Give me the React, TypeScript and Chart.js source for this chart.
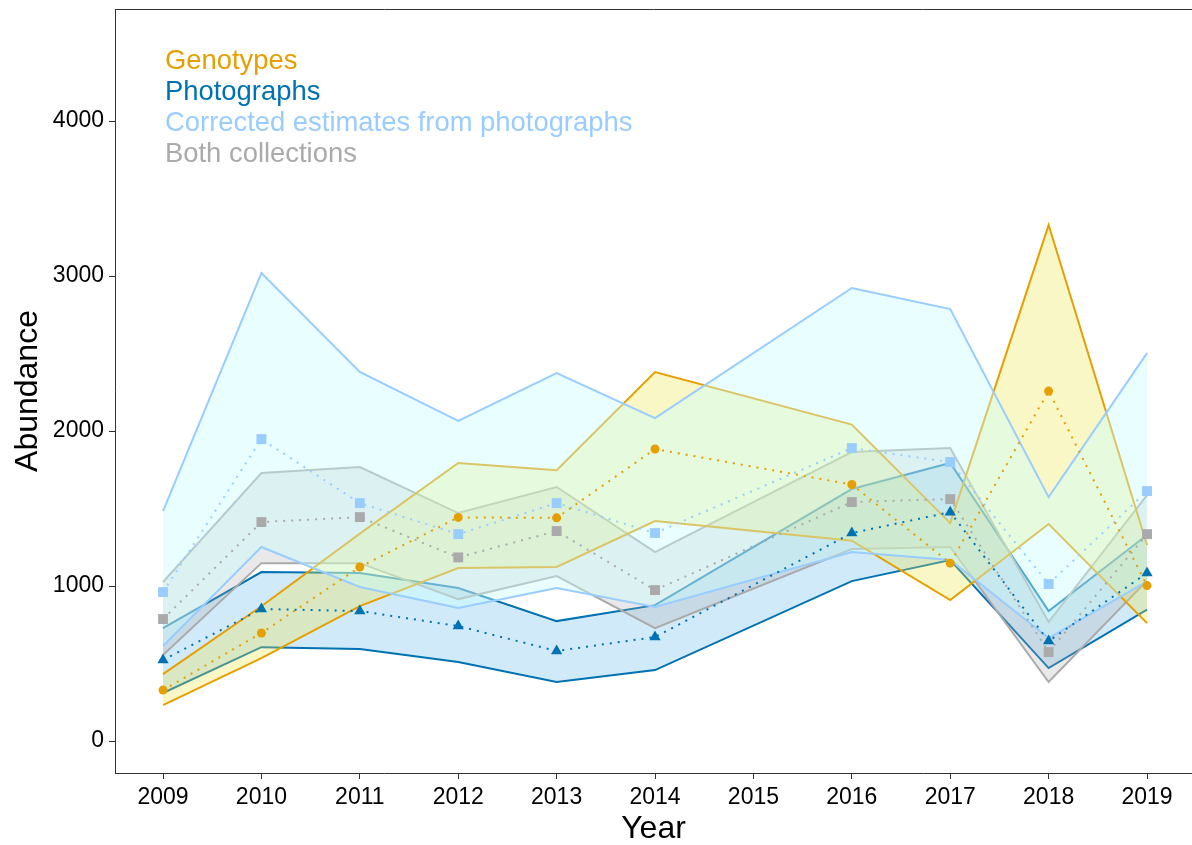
import React, { useEffect, useRef } from "react";
import { Chart, registerables } from "chart.js";

Chart.register(...registerables);

const years = [2009, 2010, 2011, 2012, 2013, 2014, 2016, 2017, 2018, 2019];
const xTicks = [2009, 2010, 2011, 2012, 2013, 2014, 2015, 2016, 2017, 2018, 2019];
const yTicks = [0, 1000, 2000, 3000, 4000];

const genoMean = [329, 697, 1123, 1443, 1440, 1884, 1655, 1148, 2258, 1003];
const genoUpper = [432, 870, 1338, 1794, 1748, 2381, 2042, 1406, 3329, 1265];
const genoLower = [232, 535, 871, 1116, 1123, 1419, 1293, 910, 1400, 761];

const photoMean = [523, 852, 839, 742, 581, 671, 1342, 1477, 645, 1084];
const photoUpper = [729, 1090, 1084, 987, 774, 877, 1626, 1794, 839, 1329];
const photoLower = [310, 606, 594, 510, 381, 458, 1032, 1168, 471, 848];

const corrMean = [961, 1948, 1535, 1335, 1535, 1342, 1890, 1800, 1013, 1613];
const corrUpper = [1484, 3019, 2381, 2065, 2374, 2084, 2923, 2787, 1574, 2503];
const corrLower = [613, 1252, 994, 858, 987, 865, 1219, 1168, 665, 1030];

const bothMean = [787, 1413, 1445, 1185, 1355, 974, 1542, 1561, 574, 1335];
const bothUpper = [1026, 1729, 1768, 1471, 1639, 1219, 1865, 1890, 768, 1587];
const bothLower = [555, 1148, 1148, 916, 1065, 729, 1239, 1252, 381, 1035];

const legendLabels = [
  "Genotypes",
  "Photographs",
  "Corrected estimates from photographs",
  "Both collections",
];

const C_GENO = "#E69F00";
const C_PHOTO = "#0072B2";
const C_CORR = "#99CCFF";
const C_BOTH = "#AAAAAA";
const legendColors = [C_GENO, C_PHOTO, C_CORR, C_BOTH];

const FONT = "'Liberation Sans', Arial, sans-serif";

const pts = (arr: number[]) => years.map((x, i) => ({ x, y: arr[i] }));

function ribbon(upper: number[], lower: number[], line: string, fill: string, order: number) {
  return [
    {
      data: pts(upper),
      borderColor: line,
      backgroundColor: fill,
      borderWidth: 2,
      pointRadius: 0,
      fill: "+1",
      order: order,
      tension: 0,
    },
    {
      data: pts(lower),
      borderColor: line,
      backgroundColor: fill,
      borderWidth: 2,
      pointRadius: 0,
      fill: false,
      order: order - 1,
      tension: 0,
    },
  ];
}

function meanLine(arr: number[], color: string, style: string, radius: number, order: number) {
  return {
    data: pts(arr),
    borderColor: color,
    backgroundColor: color,
    borderWidth: 2,
    borderDash: [2, 6],
    pointStyle: style,
    pointRadius: radius,
    pointBackgroundColor: color,
    pointBorderColor: color,
    pointBorderWidth: 0,
    fill: false,
    order: order,
    tension: 0,
  };
}

const overlayPlugin = {
  id: "overlay",
  afterDraw(chart: any) {
    const { ctx, chartArea } = chart;
    ctx.save();
    ctx.strokeStyle = "#333333";
    ctx.lineWidth = 1;
    ctx.beginPath();
    ctx.moveTo(chartArea.left, chartArea.top + 0.5);
    ctx.lineTo(chartArea.right, chartArea.top + 0.5);
    ctx.stroke();
    ctx.font = `27.4px ${FONT}`;
    ctx.textBaseline = "middle";
    ctx.textAlign = "left";
    legendLabels.forEach((t, i) => {
      ctx.fillStyle = legendColors[i];
      ctx.fillText(t, 165, 61 + i * 31);
    });
    ctx.restore();
  },
};

export default function App() {
  const ref = useRef<HTMLCanvasElement | null>(null);
  useEffect(() => {
    if (!ref.current) return;
    const datasets: any[] = [
      ...ribbon(photoUpper, photoLower, C_PHOTO, "rgba(86,180,233,0.28)", 20),
      ...ribbon(bothUpper, bothLower, C_BOTH, "rgba(169,169,169,0.25)", 18),
      ...ribbon(genoUpper, genoLower, C_GENO, "rgba(240,228,66,0.3)", 16),
      ...ribbon(corrUpper, corrLower, C_CORR, "rgba(200,255,255,0.4)", 14),
      meanLine(bothMean, C_BOTH, "rect", 7, 4),
      meanLine(corrMean, C_CORR, "rect", 7, 3),
      meanLine(genoMean, C_GENO, "circle", 4.5, 2),
      meanLine(photoMean, C_PHOTO, "triangle", 6.5, 1),
    ];
    const chart = new Chart(ref.current, {
      type: "line",
      data: { datasets },
      plugins: [overlayPlugin],
      options: {
        animation: false,
        responsive: false,
        layout: { autoPadding: false, padding: { top: 9, left: 0, right: 0, bottom: 0 } },
        plugins: {
          legend: { display: false },
          tooltip: { enabled: false },
        },
        scales: {
          x: {
            type: "linear",
            min: 2008.512,
            max: 2019.457,
            afterBuildTicks: (scale: any) => {
              scale.ticks = xTicks.map((v) => ({ value: v }));
            },
            afterFit: (scale: any) => {
              scale.height = 72;
              scale.paddingLeft = 0;
              scale.paddingRight = 0;
            },
            grid: {
              drawOnChartArea: false,
              drawTicks: true,
              tickLength: 6,
              color: "#333333",
              lineWidth: 1,
            },
            border: { display: true, color: "#333333", width: 1 },
            ticks: {
              autoSkip: false,
              maxRotation: 0,
              color: "#000000",
              font: { family: FONT, size: 23 },
              padding: 5,
              callback: (v: any) => String(v),
            },
            title: {
              display: true,
              text: "Year",
              color: "#000000",
              font: { family: FONT, size: 32, lineHeight: 1 },
              padding: { top: 0, bottom: 0 },
            },
          },
          y: {
            type: "linear",
            min: -206,
            max: 4723,
            afterBuildTicks: (scale: any) => {
              scale.ticks = yTicks.map((v) => ({ value: v }));
            },
            afterFit: (scale: any) => {
              scale.width = 115;
              scale.paddingTop = 0;
              scale.paddingBottom = 0;
            },
            grid: {
              drawOnChartArea: false,
              drawTicks: true,
              tickLength: 6,
              color: "#333333",
              lineWidth: 1,
            },
            border: { display: true, color: "#333333", width: 1 },
            ticks: {
              color: "#000000",
              font: { family: FONT, size: 23 },
              padding: 5,
              callback: (v: any) => String(v),
            },
            title: {
              display: true,
              text: "Abundance",
              color: "#000000",
              font: { family: FONT, size: 32, lineHeight: 1 },
              padding: { top: 12, bottom: 0 },
            },
          },
        },
      },
    });
    return () => chart.destroy();
  }, []);
  return (
    <div style={{ position: "absolute", left: 0, top: 0, width: 1192, height: 845, background: "#fff" }}>
      <canvas ref={ref} width={1192} height={845} style={{ display: "block" }} />
    </div>
  );
}
